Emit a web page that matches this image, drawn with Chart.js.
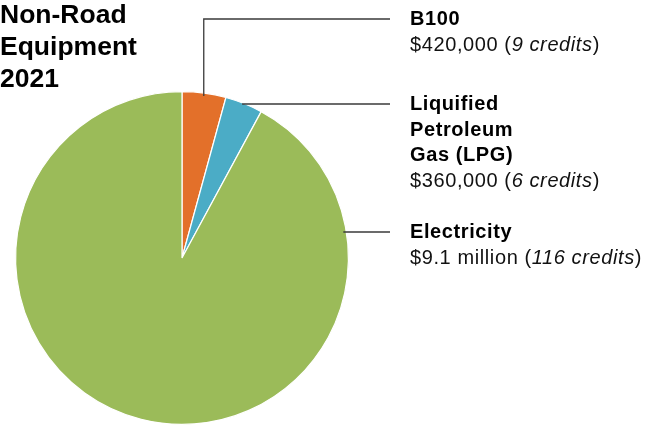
<!DOCTYPE html>
<html>
<head>
<meta charset="utf-8">
<script src="https://cdn.jsdelivr.net/npm/chart.js@4"></script>
<style>
	body{margin:0;background:#fff;font-family:"Liberation Sans",Arial,sans-serif;}
	#wrap{position:relative;width:658px;height:427px;}
	#graphique{position:absolute;left:0;top:0;}
	.titre{position:absolute;left:0;top:-2px;font-size:26.5px;font-weight:bold;line-height:32px;color:#000;}
	.etiquette{position:absolute;left:410px;font-size:20px;letter-spacing:0.6px;line-height:25.5px;color:#111;white-space:nowrap;}
	.etiquette b{color:#000;}
</style>
</head>
<body>
<div id="wrap">
	<canvas id="graphique" width="658" height="427"></canvas>
	<div class="titre">Non-Road<br>Equipment<br>2021</div>
	<div class="etiquette" style="top:6px"><b>B100</b><br>$420,000 (<i>9 credits</i>)</div>
	<div class="etiquette" style="top:91px"><b>Liquified<br>Petroleum<br>Gas (LPG)</b><br>$360,000 (<i>6 credits</i>)</div>
	<div class="etiquette" style="top:219px"><b>Electricity</b><br>$9.1 million (<i>116 credits</i>)</div>
</div>
<script>
//Donnees du graphique
const categories = ["B100", "Liquified Petroleum Gas (LPG)", "Electricity"];
const montants = [420000, 360000, 9100000];
const credits = [9, 6, 116];
const couleurs = ["#E3702A", "#4BACC6", "#9BBB59"];

//Y des lignes de rappel (a cote des etiquettes) et x de fin
const lignesY = [19, 104, 232];
const finLigneX = 390;

//Plugin qui trace les traits entre les parts et les etiquettes
const traitsRappel = {
	id: "traitsRappel",
	afterDatasetsDraw(chart){
		const ctx = chart.ctx;
		const arcs = chart.getDatasetMeta(0).data;
		ctx.save();
		ctx.strokeStyle = "#3a3a3a";
		ctx.lineWidth = 1.3;
		for(let i = 0; i < arcs.length; i++){
			const a = arcs[i];
			const r = a.outerRadius - 3;
			let x, y;
			if (i === 0){
				//milieu de la part, trait vertical puis horizontal
				const ang = (a.startAngle + a.endAngle) / 2;
				x = a.x + Math.cos(ang) * r;
				y = a.y + Math.sin(ang) * r;
				ctx.beginPath();
				ctx.moveTo(x, y);
				ctx.lineTo(x, lignesY[i]);
				ctx.lineTo(finLigneX, lignesY[i]);
				ctx.stroke();
			} else {
				//point du bord a la hauteur de l'etiquette
				y = lignesY[i];
				const dy = y - a.y;
				x = a.x + Math.sqrt(Math.max(0, r * r - dy * dy));
				if (i === 1){
					const ang = (a.startAngle + a.endAngle) / 2;
					x = a.x + Math.cos(ang) * (r - 2);
				}
				ctx.beginPath();
				ctx.moveTo(x, lignesY[i]);
				ctx.lineTo(finLigneX, lignesY[i]);
				ctx.stroke();
			}
		}
		ctx.restore();
	}
};

const data = {
	labels: categories,
	datasets: [{
		data: montants,
		backgroundColor: couleurs,
		borderColor: "#ffffff",
		borderWidth: 1.2,
	}],
};

new Chart(document.querySelector("#graphique"), {
	type: "pie",
	data: data,
	options: {
		responsive: false,
		animation: false,
		layout: { padding: { left: 15, top: 91, right: 309, bottom: 2 } },
		plugins: {
			legend: { display: false },
			tooltip: { enabled: false },
		},
	},
	plugins: [traitsRappel],
});
</script>
</body>
</html>
